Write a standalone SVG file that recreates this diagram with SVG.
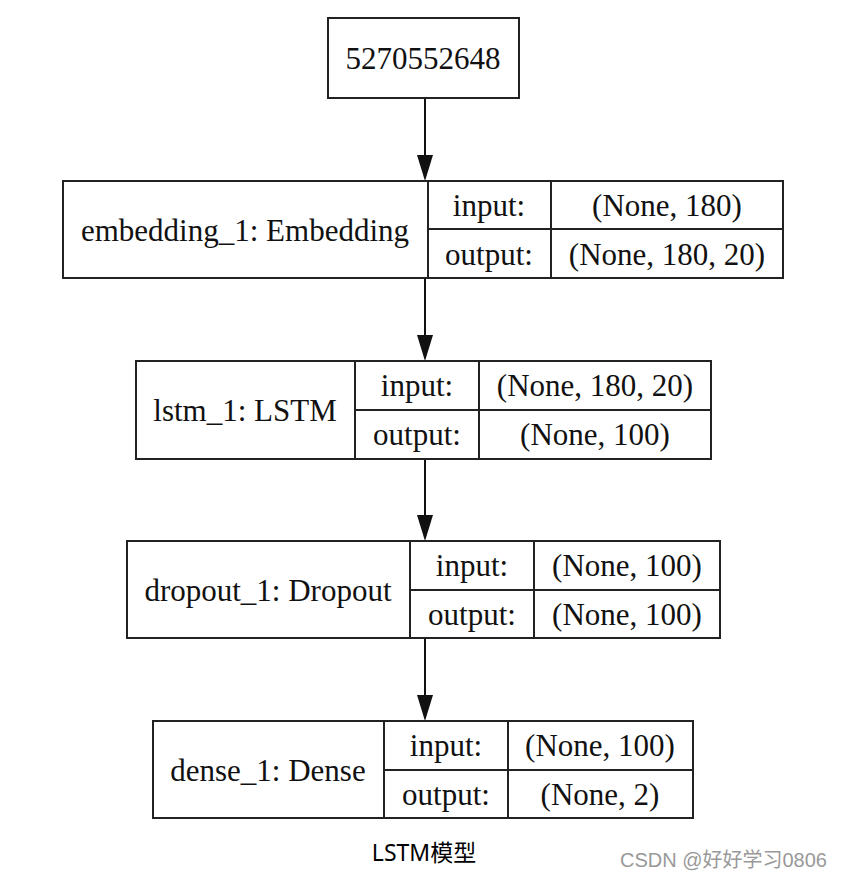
<svg xmlns="http://www.w3.org/2000/svg" width="842" height="880" viewBox="0 0 842 880">
<defs>
<style>
.box{fill:#fff;stroke:#222;stroke-width:2}
.ln{stroke:#222;stroke-width:2;fill:none}
.t{font-family:"Liberation Serif","Times New Roman",serif;font-size:31px;fill:#111;text-anchor:middle}
.edge{stroke:#111;stroke-width:2;fill:none}
.head{fill:#111}
</style>
</defs>
<rect width="842" height="880" fill="#fff"/>
<g id="connectors">
<line class="edge" x1="425" y1="98" x2="425" y2="155"/>
<path class="head" d="M417,155 L433,155 L425,181 Z"/>
<line class="edge" x1="425" y1="278" x2="425" y2="335"/>
<path class="head" d="M417,335 L433,335 L425,361 Z"/>
<line class="edge" x1="425" y1="459" x2="425" y2="515"/>
<path class="head" d="M417,515 L433,515 L425,541 Z"/>
<line class="edge" x1="425" y1="638" x2="425" y2="695"/>
<path class="head" d="M417,695 L433,695 L425,721 Z"/>
</g>
<g id="input_node">
<rect class="box" x="328" y="18" width="191" height="80"/>
<text class="t" x="423" y="69">5270552648</text>
</g>
<g id="embedding_1">
<rect class="box" x="63" y="181" width="720" height="97"/>
<line class="ln" x1="428" y1="181" x2="428" y2="278"/>
<line class="ln" x1="551" y1="181" x2="551" y2="278"/>
<line class="ln" x1="428" y1="229" x2="783" y2="229"/>
<text class="t" x="245" y="241">embedding_1: Embedding</text>
<text class="t" x="489" y="216">input:</text>
<text class="t" x="667" y="216">(None, 180)</text>
<text class="t" x="489" y="265">output:</text>
<text class="t" x="667" y="265">(None, 180, 20)</text>
</g>
<g id="lstm_1">
<rect class="box" x="136" y="361" width="575" height="98"/>
<line class="ln" x1="355" y1="361" x2="355" y2="459"/>
<line class="ln" x1="479" y1="361" x2="479" y2="459"/>
<line class="ln" x1="355" y1="410" x2="711" y2="410"/>
<text class="t" x="245" y="421">lstm_1: LSTM</text>
<text class="t" x="417" y="396">input:</text>
<text class="t" x="595" y="396">(None, 180, 20)</text>
<text class="t" x="417" y="445">output:</text>
<text class="t" x="595" y="445">(None, 100)</text>
</g>
<g id="dropout_1">
<rect class="box" x="127" y="541" width="593" height="97"/>
<line class="ln" x1="410" y1="541" x2="410" y2="638"/>
<line class="ln" x1="534" y1="541" x2="534" y2="638"/>
<line class="ln" x1="410" y1="590" x2="720" y2="590"/>
<text class="t" x="268" y="601">dropout_1: Dropout</text>
<text class="t" x="472" y="576">input:</text>
<text class="t" x="627" y="576">(None, 100)</text>
<text class="t" x="472" y="625">output:</text>
<text class="t" x="627" y="625">(None, 100)</text>
</g>
<g id="dense_1">
<rect class="box" x="153" y="721" width="540" height="97"/>
<line class="ln" x1="384" y1="721" x2="384" y2="818"/>
<line class="ln" x1="508" y1="721" x2="508" y2="818"/>
<line class="ln" x1="384" y1="770" x2="693" y2="770"/>
<text class="t" x="268" y="781">dense_1: Dense</text>
<text class="t" x="446" y="756">input:</text>
<text class="t" x="600" y="756">(None, 100)</text>
<text class="t" x="446" y="805">output:</text>
<text class="t" x="600" y="805">(None, 2)</text>
</g>
<text x="424" y="861" font-family="'Noto Sans','Noto Sans CJK SC',sans-serif" font-size="23" fill="#000" text-anchor="middle">LSTM模型</text>
<text x="827" y="867" font-family="'Liberation Sans','Noto Sans CJK SC',sans-serif" font-size="20" fill="#999" text-anchor="end">CSDN @好好学习0806</text>
</svg>
